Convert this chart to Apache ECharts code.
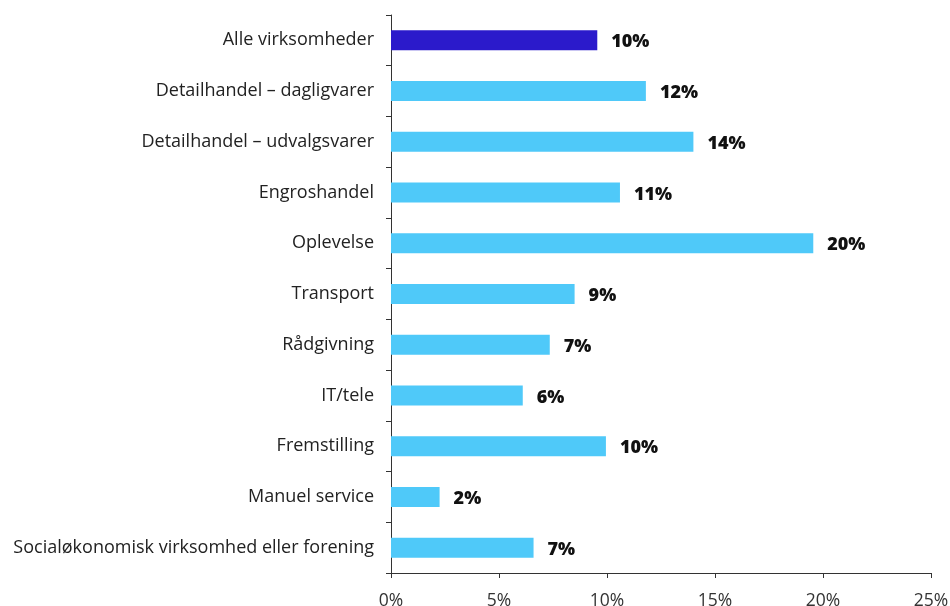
<!DOCTYPE html>
<html>
<head>
<meta charset="utf-8">
<script src="https://cdn.jsdelivr.net/npm/echarts@6/dist/echarts.min.js"></script>
<style>
  html, body { margin: 0; padding: 0; background: #fff; }
  #main { width: 950px; height: 606px; }
</style>
</head>
<body>
<div id="main"></div>
<script>
// kategorier fra top til bund
var categories = [
  "Alle virksomheder",
  "Detailhandel – dagligvarer",
  "Detailhandel – udvalgsvarer",
  "Engroshandel",
  "Oplevelse",
  "Transport",
  "Rådgivning",
  "IT/tele",
  "Fremstilling",
  "Manuel service",
  "Socialøkonomisk virksomhed eller forening"
];
var values = [9.55, 11.8, 14.0, 10.6, 19.55, 8.5, 7.35, 6.1, 9.95, 2.25, 6.6];
var xTicks = [0, 5, 10, 15, 20, 25];

var darkBlue = "#2b1acb";
var lightBlue = "#4fc9f9";

var myChart = echarts.init(document.getElementById("main"));

var option = {
  animation: false,
  textStyle: { fontFamily: "Open Sans" },
  grid: {
    left: 391,
    right: 19,
    top: 15,
    bottom: 33,
    outerBoundsMode: "none"
  },
  xAxis: {
    type: "value",
    min: xTicks[0],
    max: xTicks[xTicks.length - 1],
    interval: 5,
    splitLine: { show: false },
    axisLine: { show: true, lineStyle: { color: "#333", width: 1 } },
    axisTick: { show: true, length: 5, lineStyle: { color: "#333" } },
    axisLabel: {
      formatter: "{value}%",
      color: "#333",
      fontSize: 17.5,
      margin: 19
    }
  },
  yAxis: {
    type: "category",
    inverse: true,
    data: categories,
    axisLine: { show: true, lineStyle: { color: "#333", width: 1 } },
    axisTick: { show: true, length: 5, lineStyle: { color: "#333" } },
    axisLabel: {
      color: "#222",
      fontSize: 18,
      margin: 17
    }
  },
  series: [
    {
      type: "bar",
      barWidth: 20,
      data: values.map(function (v, i) {
        return {
          value: v,
          itemStyle: { color: i === 0 ? darkBlue : lightBlue }
        };
      }),
      label: {
        show: true,
        position: "right",
        distance: 14,
        color: "#111",
        fontSize: 18,
        fontWeight: 800,
        offset: [0, 2],
        formatter: function (p) {
          return Math.round(p.value) + "%";
        }
      }
    }
  ]
};

myChart.setOption(option);
</script>
</body>
</html>
